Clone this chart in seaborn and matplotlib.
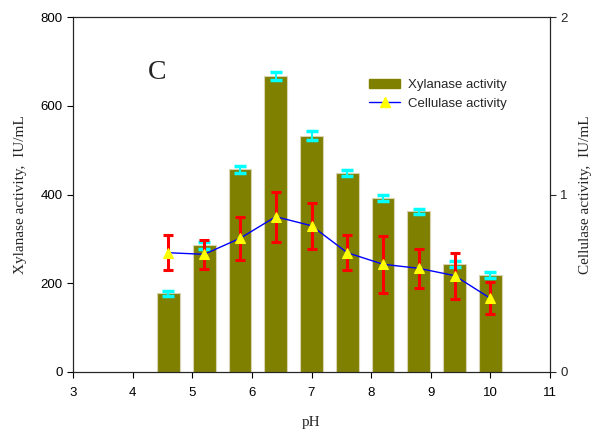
import matplotlib
matplotlib.use("Agg")
import matplotlib.pyplot as plt
import seaborn as sns
import pandas as pd
from matplotlib.patches import Patch
from matplotlib.lines import Line2D

ph = [4.6, 5.2, 5.8, 6.4, 7.0, 7.6, 8.2, 8.8, 9.4, 10.0]
xylanase = [177, 286, 457, 667, 532, 448, 393, 362, 243, 218]
xylanase_err = [6, 8, 8, 10, 10, 7, 7, 6, 7, 7]
cellulase = [0.672, 0.663, 0.753, 0.875, 0.824, 0.672, 0.607, 0.584, 0.543, 0.415]
cellulase_err = [0.10, 0.08, 0.12, 0.14, 0.13, 0.10, 0.16, 0.11, 0.13, 0.09]

df = pd.DataFrame({"pH": ph, "xyl": xylanase, "cel": cellulase})

sns.set_style("ticks")
plt.rcParams["font.family"] = ["Liberation Sans", "DejaVu Sans"]

fig = plt.figure(figsize=(5.97, 4.32), dpi=100)
ax = fig.add_axes([73/597, 1-372/432, (550-73)/597, (372-17)/432])

sns.barplot(data=df, x="pH", y="xyl", native_scale=True, width=0.64,
            color="#808000", edgecolor="#d8d3b0", linewidth=0.8,
            errorbar=None, saturation=1, ax=ax, zorder=2)
ax.errorbar(ph, xylanase, yerr=xylanase_err, fmt="none", ecolor="#00ffff",
            elinewidth=1.5, capsize=4.3, capthick=2.5, zorder=3)

ax.set_xlim(3, 11)
ax.set_ylim(0, 800)
ax.set_xticks(range(3, 12))
ax.set_yticks([0, 200, 400, 600, 800])
ax.set_xlabel("pH", family="Liberation Serif", fontsize=11, labelpad=12)
ax.set_ylabel("Xylanase activity,  IU/mL", family="Liberation Serif", fontsize=11, labelpad=10)
ax.tick_params(direction="out", length=4, width=0.8, labelsize=9.5, colors="black")
ax.tick_params(axis="x", pad=7)
for s in ax.spines.values():
    s.set_visible(True)
    s.set_linewidth(0.8)
    s.set_color("black")

ax2 = ax.twinx()
ax2.errorbar(ph, cellulase, yerr=cellulase_err, fmt="none", ecolor="#ff0000",
             elinewidth=2.2, capsize=3.3, capthick=2.2, zorder=3)
sns.lineplot(x=ph, y=cellulase, ax=ax2, color="#0000ff", linewidth=1,
             marker="^", markersize=6.5, markerfacecolor="#ffff00",
             markeredgecolor="#ffff00", zorder=4)
ax2.set_ylim(0, 2)
ax2.set_yticks([0, 1, 2])
ax2.set_ylabel("Cellulase activity,  IU/mL", family="Liberation Serif", fontsize=11, labelpad=8)
ax2.tick_params(direction="out", length=4, width=0.8, labelsize=9.5)
ax2.set_xlim(3, 11)

ax.text(0.157, 0.825, "C", transform=ax.transAxes, family="Liberation Serif", fontsize=20)

handles = [Patch(facecolor="#808000", edgecolor="#808000"),
           Line2D([0], [0], color="#0000ff", lw=1, marker="^", markersize=6.5,
                  markerfacecolor="#ffff00", markeredgecolor="#ffff00")]
ax2.legend(handles, ["Xylanase activity", "Cellulase activity"], loc="upper left",
           bbox_to_anchor=(0.595, 0.86), frameon=False, fontsize=9.5,
           handlelength=2.4, handletextpad=0.6, labelspacing=0.5)

fig.savefig("out.png", dpi=100)
